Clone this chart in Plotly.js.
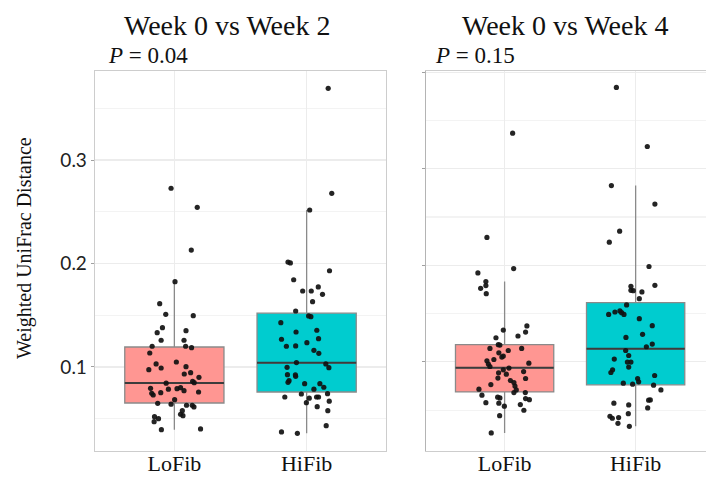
<!DOCTYPE html>
<html>
<head>
<meta charset="utf-8">
<script src="https://cdn.plot.ly/plotly-3.0.1.min.js"></script>
<style>html,body{margin:0;padding:0;background:#fff;}#chart{width:706px;height:478px;}</style>
</head>
<body>
<div id="chart"></div>
<script>
// ---- data ----
const categories = ['LoFib', 'HiFib'];
const panelTitles = ['Week 0 vs Week 2', 'Week 0 vs Week 4'];
const pValues = ['0.04', '0.15'];
const yTickVals = [0.1, 0.2, 0.3];

// Week 0 vs Week 2 box statistics [LoFib, HiFib]
const w2_q1 = [0.0652, 0.0758];
const w2_median = [0.0845, 0.104];
const w2_q3 = [0.1193, 0.152];
const w2_lower = [0.0394, 0.0359];
const w2_upper = [0.1824, 0.2517];

// Week 0 vs Week 4 box statistics [LoFib, HiFib]
const w4_q1 = [0.0688, 0.0761];
const w4_median = [0.0938, 0.1135];
const w4_q3 = [0.1177, 0.1613];
const w4_lower = [0.0263, 0.0332];
const w4_upper = [0.1831, 0.2825];

// individual points (values) and their horizontal jitter (category units)
const w2_lofib = [0.2727,0.2543,0.2130,0.1824,0.1612,0.1509,0.1496,0.1380,0.1331,0.1351,0.1258,0.1258,0.1200,0.1200,0.1186,0.1135,0.1048,0.1029,0.1003,0.0974,0.0990,0.0932,0.0945,0.0900,0.0862,0.0848,0.0843,0.0794,0.0746,0.0729,0.0752,0.0785,0.0790,0.0800,0.0771,0.0758,0.0684,0.0649,0.0640,0.0630,0.0630,0.0614,0.0578,0.0543,0.0529,0.0520,0.0500,0.0471,0.0394,0.0401];
const w2_lofib_jitter = [-0.025,0.173,0.128,0.005,-0.111,-0.065,0.143,-0.090,-0.130,0.088,-0.100,0.073,-0.168,0.085,0.130,-0.186,0.015,-0.138,0.088,-0.193,-0.100,0.075,0.123,0.186,0.138,0.150,-0.062,-0.180,-0.171,-0.160,-0.103,-0.045,0.020,0.047,0.073,0.183,0.002,-0.126,-0.025,0.092,0.135,0.148,0.060,0.047,0.065,-0.150,-0.120,-0.153,-0.098,0.198];

const w2_hifib = [0.3693,0.2678,0.2517,0.2014,0.2005,0.1930,0.1843,0.1773,0.1734,0.1734,0.1702,0.1631,0.1541,0.1493,0.1486,0.1428,0.1338,0.1355,0.1268,0.1273,0.1200,0.1203,0.1235,0.1161,0.1132,0.1042,0.1029,0.0993,0.0997,0.0926,0.0923,0.0910,0.0868,0.0852,0.0839,0.0839,0.0804,0.0785,0.0739,0.0710,0.0742,0.0698,0.0710,0.0710,0.0655,0.0669,0.0616,0.0578,0.0433,0.0372,0.0359];
const w2_hifib_jitter = [0.163,0.190,0.023,-0.141,-0.123,0.173,-0.098,0.088,-0.030,0.035,0.120,0.045,-0.083,0.015,0.032,-0.195,-0.080,0.077,-0.190,0.090,-0.153,-0.083,0.002,0.055,0.092,-0.077,0.145,0.168,-0.148,-0.145,-0.085,-0.083,-0.133,-0.141,-0.015,0.100,0.130,0.055,-0.040,-0.165,0.158,0.020,0.075,0.090,-0.002,0.171,0.080,0.160,0.148,-0.190,-0.070];

const w4_lofib = [0.3368,0.2288,0.1966,0.1921,0.1831,0.1789,0.1761,0.1706,0.1371,0.1308,0.1329,0.1267,0.1249,0.1177,0.1173,0.1138,0.1138,0.1117,0.1093,0.1059,0.1049,0.1024,0.1010,0.0976,0.0986,0.0951,0.0935,0.0917,0.0886,0.0899,0.0872,0.0831,0.0827,0.0806,0.0785,0.0764,0.0748,0.0716,0.0709,0.0681,0.0681,0.0654,0.0633,0.0626,0.0619,0.0608,0.0577,0.0571,0.0557,0.0540,0.0498,0.0442,0.0263];
const w4_lofib_jitter = [0.061,-0.135,0.069,-0.204,-0.143,-0.143,-0.183,-0.140,0.170,0.160,-0.010,0.102,-0.066,-0.048,-0.036,-0.112,0.130,0.028,-0.044,-0.010,-0.021,-0.082,-0.135,-0.124,0.185,-0.112,0.033,-0.010,-0.046,0.145,0.013,-0.051,0.160,0.044,0.071,-0.105,0.079,-0.196,0.089,0.071,0.158,-0.173,-0.053,-0.036,0.160,0.189,-0.143,-0.044,0.120,-0.002,0.147,-0.038,-0.102];

const w4_hifib = [0.3842,0.3230,0.2825,0.2634,0.2353,0.2239,0.1987,0.1792,0.1782,0.1740,0.1737,0.1724,0.1654,0.1589,0.1491,0.1516,0.1527,0.1509,0.1491,0.1447,0.1374,0.1252,0.1284,0.1184,0.1156,0.1117,0.1065,0.1028,0.0997,0.0997,0.0945,0.0917,0.0889,0.0858,0.0827,0.0792,0.0779,0.0768,0.0758,0.0709,0.0602,0.0605,0.0522,0.0571,0.0553,0.0463,0.0436,0.0415,0.0422,0.0363,0.0332];
const w4_hifib_jitter = [-0.147,0.089,-0.185,0.147,-0.122,-0.201,0.102,0.147,-0.036,-0.036,-0.018,0.048,0.028,-0.069,-0.206,-0.158,-0.120,-0.107,-0.089,0.028,0.127,-0.074,0.053,0.127,0.082,-0.076,-0.053,-0.163,-0.063,-0.036,-0.053,-0.176,-0.189,0.145,0.015,0.023,-0.094,-0.023,0.137,0.193,0.099,0.112,0.092,-0.166,-0.053,-0.056,-0.196,-0.178,-0.130,-0.135,-0.048];

// ---- styling ----
const fills = ['rgba(255,150,146,1)', 'rgba(0,204,207,1)'];
const boxWidth = 0.75;
const serif = 'Liberation Serif, Times New Roman, serif';

const traces = [];
function addPanel(xa, ya, q1, med, q3, lo, hi, pts, jit) {
  for (let i = 0; i < categories.length; i++) {
    traces.push({
      type: 'box', xaxis: xa, yaxis: ya, x: [i],
      q1: [q1[i]], median: [med[i]], q3: [q3[i]],
      lowerfence: [lo[i]], upperfence: [hi[i]],
      width: boxWidth, whiskerwidth: 0, boxpoints: false,
      fillcolor: fills[i], line: {color: '#8a8a8a', width: 1.3},
      showlegend: false, hoverinfo: 'skip'
    });
    // darker median bar
    traces.push({
      type: 'scatter', mode: 'lines', xaxis: xa, yaxis: ya,
      x: [i - boxWidth / 2, i + boxWidth / 2], y: [med[i], med[i]],
      line: {color: '#3c3c3c', width: 2}, showlegend: false, hoverinfo: 'skip'
    });
    traces.push({
      type: 'scatter', mode: 'markers', xaxis: xa, yaxis: ya,
      x: jit[i].map(d => i + d), y: pts[i],
      marker: {color: '#111', size: 5.2, opacity: 0.92},
      showlegend: false
    });
  }
}
addPanel('x', 'y', w2_q1, w2_median, w2_q3, w2_lower, w2_upper,
  [w2_lofib, w2_hifib], [w2_lofib_jitter, w2_hifib_jitter]);
addPanel('x2', 'y2', w4_q1, w4_median, w4_q3, w4_lower, w4_upper,
  [w4_lofib, w4_hifib], [w4_lofib_jitter, w4_hifib_jitter]);

const W = 706, H = 478;
const xAxisCommon = {
  tickvals: [0, 1], ticktext: categories, showgrid: true, gridcolor: '#ececec', gridwidth: 1.3,
  zeroline: false, showline: true, mirror: true, linecolor: '#cdcdcd', linewidth: 1.3,
  ticks: '', ticklabelstandoff: -8,
  tickfont: {family: serif, size: 22, color: '#111'}
};
const yAxisCommon = {
  domain: [27 / H, 407 / H], dtick: 0.1, tick0: 0, showgrid: true, gridcolor: '#ececec', gridwidth: 1.3,
  minor: {dtick: 0.05, showgrid: true, gridcolor: '#f3f3f3', gridwidth: 1.1},
  zeroline: false, showline: true, mirror: true, linewidth: 1.3,
  ticks: 'outside', ticklen: 3, tickcolor: '#a0a0a0'
};

const layout = {
  width: W, height: H, margin: {l: 0, r: 0, t: 0, b: 0},
  paper_bgcolor: '#fff', plot_bgcolor: '#fff', showlegend: false,
  xaxis: Object.assign({}, xAxisCommon, {domain: [95 / W, 386 / W], range: [-0.6, 1.6], anchor: 'y'}),
  yaxis: Object.assign({}, yAxisCommon, {range: [0.0188, 0.386], anchor: 'x', linecolor: '#cdcdcd',
    tickvals: yTickVals, tickformat: '.1f',
    tickfont: {family: 'Lato, Open Sans, sans-serif', size: 19, color: '#222'}}),
  xaxis2: Object.assign({}, xAxisCommon, {domain: [426 / W, 1], range: [-0.6, 1.537], anchor: 'y2'}),
  yaxis2: Object.assign({}, yAxisCommon, {range: [0.0076, 0.4012], anchor: 'x2', linecolor: '#b4b4b4',
    showticklabels: false}),
  annotations: [
    {text: panelTitles[0], xref: 'paper', yref: 'paper', x: 227 / W, y: 1 - 25 / H,
     xanchor: 'center', yanchor: 'middle', showarrow: false, font: {family: serif, size: 28, color: '#111'}},
    {text: panelTitles[1], xref: 'paper', yref: 'paper', x: 565 / W, y: 1 - 25 / H,
     xanchor: 'center', yanchor: 'middle', showarrow: false, font: {family: serif, size: 28, color: '#111'}},
    {text: '<i>P</i> = ' + pValues[0], xref: 'paper', yref: 'paper', x: 106 / W, y: 1 - 56 / H,
     xanchor: 'left', yanchor: 'middle', showarrow: false, font: {family: serif, size: 23, color: '#111'}},
    {text: '<i>P</i> = ' + pValues[1], xref: 'paper', yref: 'paper', x: 433 / W, y: 1 - 55 / H,
     xanchor: 'left', yanchor: 'middle', showarrow: false, font: {family: serif, size: 23, color: '#111'}},
    {text: 'Weighted UniFrac Distance', xref: 'paper', yref: 'paper', x: 24 / W, y: 1 - 248 / H,
     xanchor: 'center', yanchor: 'middle', textangle: -90, showarrow: false,
     font: {family: serif, size: 20, color: '#111'}}
  ]
};

Plotly.newPlot('chart', traces, layout, {staticPlot: true, displayModeBar: false});
</script>
</body>
</html>
